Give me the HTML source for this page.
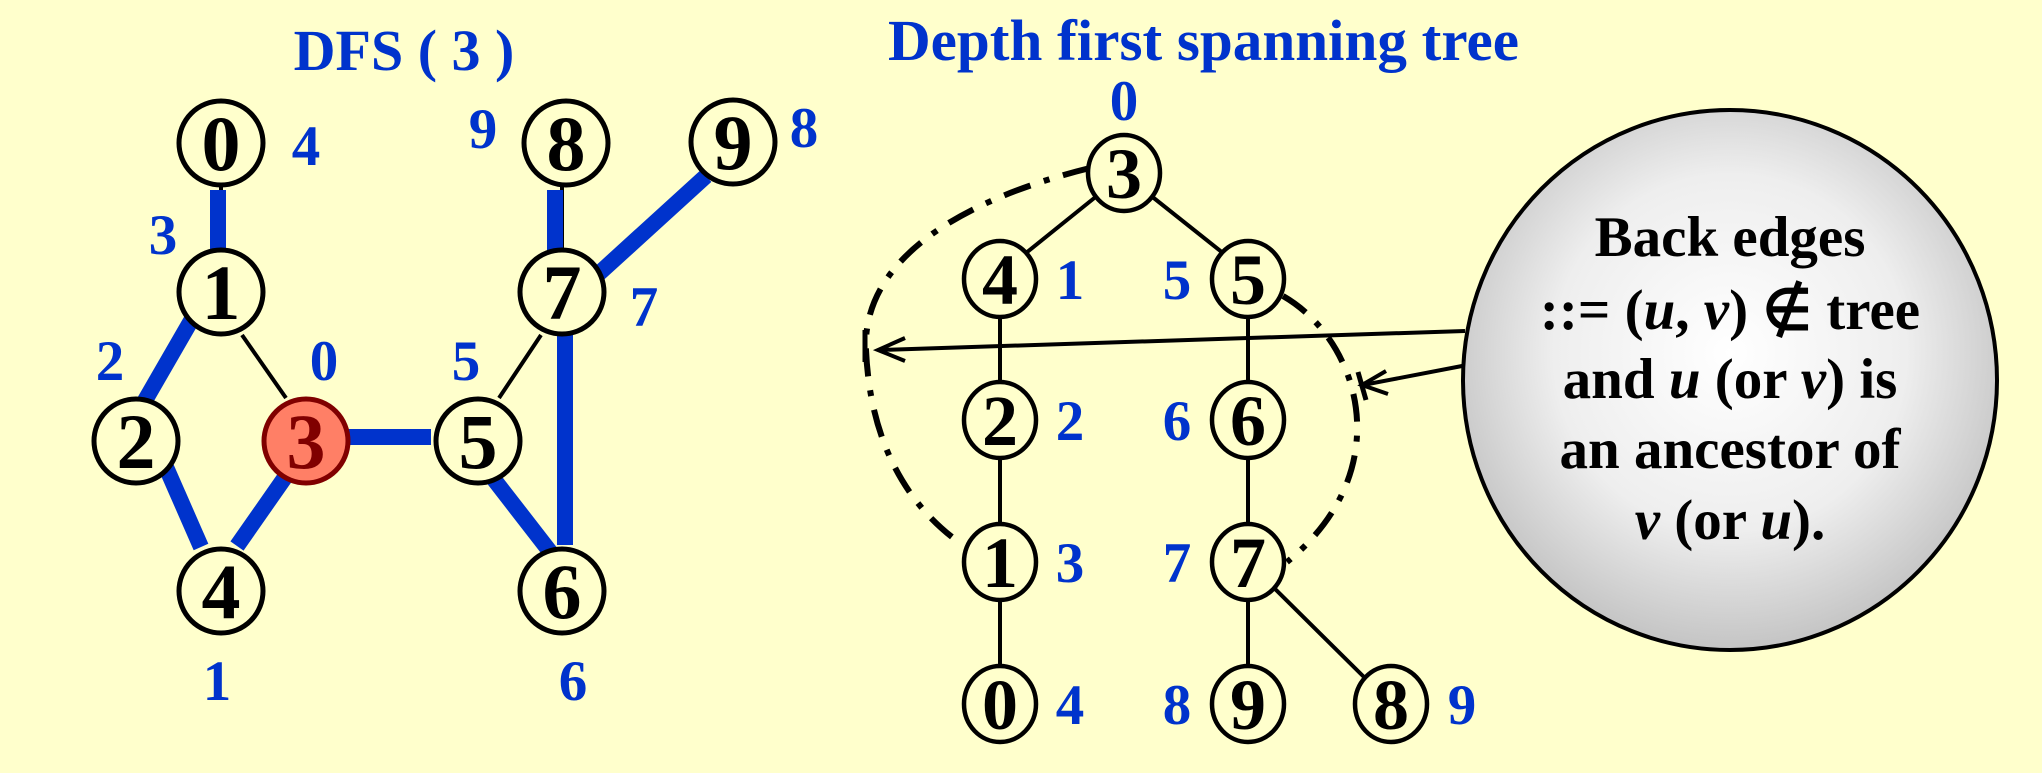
<!DOCTYPE html>
<html><head><meta charset="utf-8"><style>
html,body{margin:0;padding:0;background:#ffffcc;}
svg{display:block;}
text{font-family:"Liberation Serif",serif;font-weight:bold;}
</style></head><body>
<svg width="2042" height="773" viewBox="0 0 2042 773" xmlns="http://www.w3.org/2000/svg">
<defs>
<radialGradient id="g" cx="50%" cy="45%" r="55%">
<stop offset="0" stop-color="#ffffff"/><stop offset="0.6" stop-color="#eeeeee"/><stop offset="1" stop-color="#c4c4c4"/>
</radialGradient>
</defs>
<rect width="2042" height="773" fill="#ffffcc"/>

<!-- LEFT GRAPH -->
<text x="404" y="70" font-size="58" fill="#0033cc" text-anchor="middle">DFS ( 3 )</text>
<g stroke="#000" stroke-width="4">
<line x1="221" y1="186" x2="221" y2="249"/>
<line x1="242" y1="335" x2="286" y2="398"/>
<line x1="499" y1="398" x2="541" y2="335"/>
<line x1="562" y1="186" x2="562" y2="249"/>
</g>
<g stroke="#0033cc" stroke-width="16">
<line x1="218" y1="190" x2="218" y2="259"/>
<line x1="203" y1="300" x2="143" y2="404"/>
<line x1="148" y1="426" x2="201" y2="547"/>
<line x1="237" y1="546" x2="288" y2="473"/>
<line x1="344" y1="437" x2="431" y2="437"/>
<line x1="489" y1="473" x2="558" y2="562"/>
<line x1="565" y1="331" x2="565" y2="545"/>
<line x1="555" y1="190" x2="555" y2="259"/>
<line x1="594" y1="278" x2="706" y2="176"/>
</g>
<g stroke="#000" stroke-width="5" fill="#ffffcc">
<circle cx="221" cy="143" r="42"/>
<circle cx="221" cy="292" r="42"/>
<circle cx="136" cy="441" r="42"/>
<circle cx="221" cy="591" r="42"/>
<circle cx="478" cy="441" r="42"/>
<circle cx="562" cy="292" r="42"/>
<circle cx="566" cy="143" r="42"/>
<circle cx="562" cy="591" r="42"/>
<circle cx="733" cy="142" r="42"/>
</g>
<circle cx="306" cy="441" r="42" fill="#ff7f66" stroke="#800000" stroke-width="5"/>
<g font-size="78" text-anchor="middle" fill="#000">
<text x="221" y="170">0</text>
<text x="221" y="319">1</text>
<text x="136" y="468">2</text>
<text x="306" y="468" fill="#800000">3</text>
<text x="221" y="618">4</text>
<text x="478" y="468">5</text>
<text x="562" y="618">6</text>
<text x="562" y="319">7</text>
<text x="566" y="170">8</text>
<text x="733" y="169">9</text>
</g>
<g font-size="57" text-anchor="middle" fill="#0033cc">
<text x="306" y="165">4</text>
<text x="163" y="254">3</text>
<text x="110" y="380">2</text>
<text x="324" y="380">0</text>
<text x="217" y="700">1</text>
<text x="466" y="380">5</text>
<text x="483" y="148">9</text>
<text x="644" y="326">7</text>
<text x="573" y="700">6</text>
<text x="804" y="147">8</text>
</g>

<!-- RIGHT TREE -->
<text x="888" y="60" font-size="58" fill="#0033cc" textLength="631" lengthAdjust="spacingAndGlyphs">Depth first spanning tree</text>
<g stroke="#000" stroke-width="4">
<line x1="1098" y1="195" x2="1021" y2="257"/>
<line x1="1150" y1="195" x2="1228" y2="257"/>
<line x1="1000" y1="279" x2="1000" y2="704"/>
<line x1="1248" y1="279" x2="1248" y2="704"/>
<line x1="1268" y1="582" x2="1367" y2="680"/>
</g>
<g fill="none" stroke="#000" stroke-width="6" stroke-dasharray="28 14 6 14">
<path d="M1090,168 C960,200 862,260 866,350 C870,440 905,500 952,537"/>
<path d="M1283,296 C1360,340 1400,470 1287,562"/>
</g>
<line x1="865" y1="330" x2="865" y2="362" stroke="#000" stroke-width="5"/>
<line x1="1358" y1="372" x2="1366" y2="400" stroke="#000" stroke-width="5"/>
<g stroke="#000" stroke-width="4.5" fill="#ffffcc">
<ellipse cx="1124" cy="173" rx="36" ry="38"/>
<ellipse cx="1000" cy="279" rx="36" ry="38"/>
<ellipse cx="1248" cy="279" rx="36" ry="38"/>
<ellipse cx="1000" cy="420" rx="36" ry="38"/>
<ellipse cx="1248" cy="420" rx="36" ry="38"/>
<ellipse cx="1000" cy="562" rx="36" ry="38"/>
<ellipse cx="1248" cy="562" rx="36" ry="38"/>
<ellipse cx="1000" cy="704" rx="36" ry="38"/>
<ellipse cx="1248" cy="704" rx="36" ry="38"/>
<ellipse cx="1391" cy="704" rx="36" ry="38"/>
</g>
<g font-size="72" text-anchor="middle" fill="#000">
<text x="1124" y="198">3</text>
<text x="1000" y="304">4</text>
<text x="1248" y="304">5</text>
<text x="1000" y="445">2</text>
<text x="1248" y="445">6</text>
<text x="1000" y="587">1</text>
<text x="1248" y="587">7</text>
<text x="1000" y="729">0</text>
<text x="1248" y="729">9</text>
<text x="1391" y="729">8</text>
</g>
<g font-size="57" text-anchor="middle" fill="#0033cc">
<text x="1124" y="120">0</text>
<text x="1070" y="299">1</text>
<text x="1177" y="299">5</text>
<text x="1070" y="440">2</text>
<text x="1177" y="440">6</text>
<text x="1070" y="582">3</text>
<text x="1177" y="582">7</text>
<text x="1070" y="724">4</text>
<text x="1177" y="724">8</text>
<text x="1462" y="724">9</text>
</g>

<!-- arrows -->
<g stroke="#000" stroke-width="4" fill="none">
<line x1="1465" y1="331" x2="880" y2="350"/>
<polyline points="905,338 878,350 905,361"/>
<line x1="1462" y1="366" x2="1363" y2="385"/>
<polyline points="1386,371 1362,385 1388,394"/>
</g>

<!-- bubble -->
<ellipse cx="1730" cy="380" rx="267" ry="270" fill="url(#g)" stroke="#000" stroke-width="4"/>
<g font-size="57" text-anchor="middle" fill="#000">
<text x="1730" y="256">Back edges</text>
<text x="1730" y="329">::= (<tspan font-style="italic">u</tspan>, <tspan font-style="italic">v</tspan>) ∉ tree</text>
<text x="1730" y="398">and <tspan font-style="italic">u</tspan> (or <tspan font-style="italic">v</tspan>) is</text>
<text x="1730" y="468">an ancestor of</text>
<text x="1730" y="539"><tspan font-style="italic">v</tspan> (or <tspan font-style="italic">u</tspan>).</text>
</g>
</svg>
</body></html>
